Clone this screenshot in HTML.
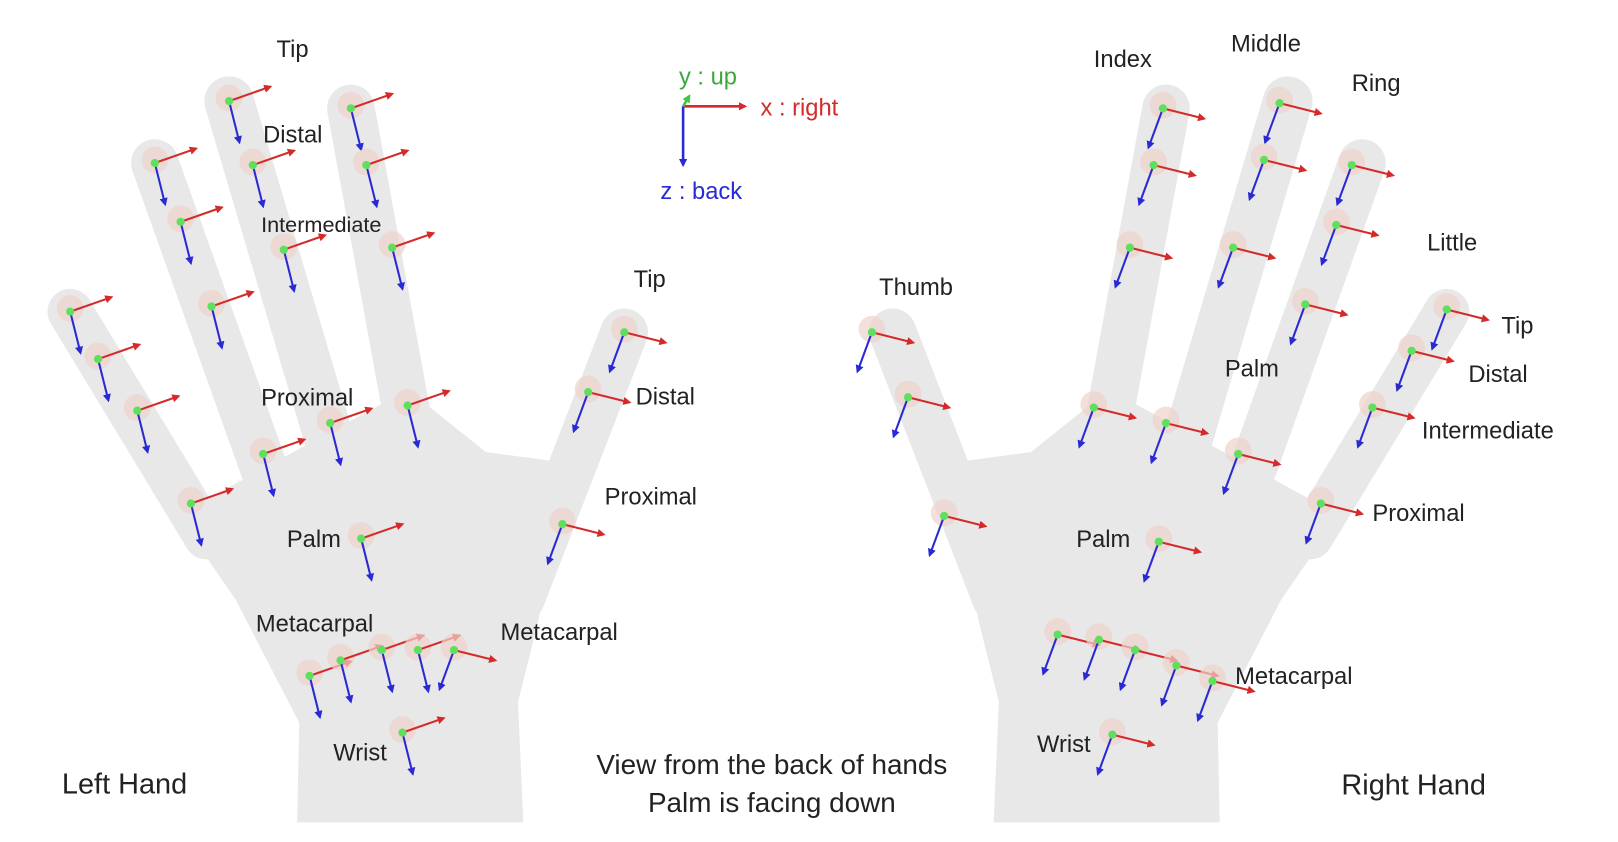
<!DOCTYPE html>
<html><head><meta charset="utf-8"><style>
html,body{margin:0;padding:0;background:#fff;width:1618px;height:842px;overflow:hidden}
svg{display:block}
text{font-family:"Liberation Sans",sans-serif;fill:#222;font-size:23px}
</style></head><body>
<svg width="1618" height="842" viewBox="0 0 1568 816" xmlns="http://www.w3.org/2000/svg">
<defs>
<marker id="mr" markerWidth="8" markerHeight="8" refX="6" refY="4" orient="auto" markerUnits="userSpaceOnUse"><path d="M0,0L8,4L0,8z" fill="#d42a2a"/></marker>
<marker id="mb" markerWidth="8" markerHeight="8" refX="6" refY="4" orient="auto" markerUnits="userSpaceOnUse"><path d="M0,0L8,4L0,8z" fill="#2a2ad4"/></marker>
<marker id="mg" markerWidth="8" markerHeight="8" refX="6" refY="4" orient="auto" markerUnits="userSpaceOnUse"><path d="M0,0L8,4L0,8z" fill="#3ec83e"/></marker>
<g id="ax">
<circle r="13" fill="#efd3cc" opacity="0.7" cx="0" cy="-3"/>
<line x1="0" y1="0" x2="40" y2="-14" stroke="#d42a2a" stroke-width="2" marker-end="url(#mr)"/>
<line x1="0" y1="0" x2="10" y2="40" stroke="#2a2ad4" stroke-width="2" marker-end="url(#mb)"/>
<circle r="4" fill="#5ee05e"/>
</g>
<g id="ax2">
<circle r="13" fill="#efd3cc" opacity="0.7" cx="0" cy="-3"/>
<line x1="0" y1="0" x2="40" y2="10" stroke="#d42a2a" stroke-width="2" marker-end="url(#mr)"/>
<line x1="0" y1="0" x2="-14" y2="38" stroke="#2a2ad4" stroke-width="2" marker-end="url(#mb)"/>
<circle r="4" fill="#5ee05e"/>
</g>
<g id="hand" fill="#e8e8e8" stroke="#e8e8e8" stroke-linecap="round">
<path d="M175,500 L395,380 L470,440 L545,450 L520,600 L500,680 L505,795 L290,795 L292,700 L230,580 Z" stroke-width="4"/>
<line x1="68" y1="302" x2="200" y2="520" stroke-width="44"/>
<line x1="150" y1="158" x2="265" y2="480" stroke-width="46"/>
<line x1="222" y1="98" x2="335" y2="480" stroke-width="48"/>
<line x1="340" y1="105" x2="405" y2="460" stroke-width="46"/>
<line x1="605" y1="322" x2="505" y2="580" stroke-width="46"/>
</g>
</defs>
<rect width="1568" height="816" fill="#fff"/>
<use href="#hand"/>
<use href="#hand" transform="translate(1470,0) scale(-1,1)"/>
<use href="#ax" x="68" y="302"/><use href="#ax" x="95" y="348"/><use href="#ax" x="133" y="398"/><use href="#ax" x="185" y="488"/>
<use href="#ax" x="150" y="158"/><use href="#ax" x="175" y="215"/><use href="#ax" x="205" y="297"/><use href="#ax" x="255" y="440"/>
<use href="#ax" x="222" y="98"/><use href="#ax" x="245" y="160"/><use href="#ax" x="275" y="242"/><use href="#ax" x="320" y="410"/>
<use href="#ax" x="340" y="105"/><use href="#ax" x="355" y="160"/><use href="#ax" x="380" y="240"/><use href="#ax" x="395" y="393"/>
<use href="#ax" x="350" y="522"/><use href="#ax" x="390" y="710"/>
<use href="#ax" x="300" y="655"/><use href="#ax" x="330" y="640"/><use href="#ax" x="370" y="630"/><use href="#ax" x="405" y="630"/><use href="#ax2" x="440" y="630"/>
<use href="#ax2" x="605" y="322"/><use href="#ax2" x="570" y="380"/><use href="#ax2" x="545" y="508"/>
<use href="#ax2" x="1127" y="105"/><use href="#ax2" x="1118" y="160"/><use href="#ax2" x="1095" y="240"/><use href="#ax2" x="1060" y="395"/>
<use href="#ax2" x="1240" y="100"/><use href="#ax2" x="1225" y="155"/><use href="#ax2" x="1195" y="240"/><use href="#ax2" x="1130" y="410"/>
<use href="#ax2" x="1310" y="160"/><use href="#ax2" x="1295" y="218"/><use href="#ax2" x="1265" y="295"/><use href="#ax2" x="1200" y="440"/>
<use href="#ax2" x="1402" y="300"/><use href="#ax2" x="1368" y="340"/><use href="#ax2" x="1330" y="395"/><use href="#ax2" x="1280" y="488"/>
<use href="#ax2" x="845" y="322"/><use href="#ax2" x="880" y="385"/><use href="#ax2" x="915" y="500"/>
<use href="#ax2" x="1123" y="525"/><use href="#ax2" x="1078" y="712"/>
<use href="#ax2" x="1025" y="615"/><use href="#ax2" x="1065" y="620"/><use href="#ax2" x="1100" y="630"/><use href="#ax2" x="1140" y="645"/><use href="#ax2" x="1175" y="660"/>
<line x1="662" y1="103" x2="722" y2="103" stroke="#d42a2a" stroke-width="2.5" marker-end="url(#mr)"/>
<line x1="662" y1="103" x2="662" y2="160" stroke="#2a2ad4" stroke-width="2.5" marker-end="url(#mb)"/>
<line x1="662" y1="103" x2="668" y2="93" stroke="#3ec83e" stroke-width="2.5" marker-end="url(#mg)"/>
<text x="658" y="82" style="fill:#3aa83a">y : up</text>
<text x="737" y="112" style="fill:#d42a2a">x : right</text>
<text x="640" y="193" style="fill:#2a2ad4">z : back</text>
<text x="268" y="55">Tip</text>
<text x="255" y="138">Distal</text>
<text x="253" y="225" style="font-size:21px">Intermediate</text>
<text x="253" y="393">Proximal</text>
<text x="278" y="530">Palm</text>
<text x="248" y="612">Metacarpal</text>
<text x="323" y="737">Wrist</text>
<text x="614" y="278">Tip</text>
<text x="616" y="392">Distal</text>
<text x="586" y="489">Proximal</text>
<text x="485" y="620">Metacarpal</text>
<text x="60" y="769" style="font-size:28px">Left Hand</text>
<text x="748" y="750" text-anchor="middle" style="font-size:27px">View from the back of hands</text>
<text x="748" y="787" text-anchor="middle" style="font-size:27px">Palm is facing down</text>
<text x="1060" y="65">Index</text>
<text x="1193" y="50">Middle</text>
<text x="1310" y="88">Ring</text>
<text x="1383" y="243">Little</text>
<text x="852" y="286">Thumb</text>
<text x="1455" y="323">Tip</text>
<text x="1423" y="370">Distal</text>
<text x="1378" y="425">Intermediate</text>
<text x="1330" y="505">Proximal</text>
<text x="1187" y="365">Palm</text>
<text x="1043" y="530">Palm</text>
<text x="1197" y="663">Metacarpal</text>
<text x="1005" y="729">Wrist</text>
<text x="1300" y="770" style="font-size:28px">Right Hand</text>
</svg>
</body></html>
